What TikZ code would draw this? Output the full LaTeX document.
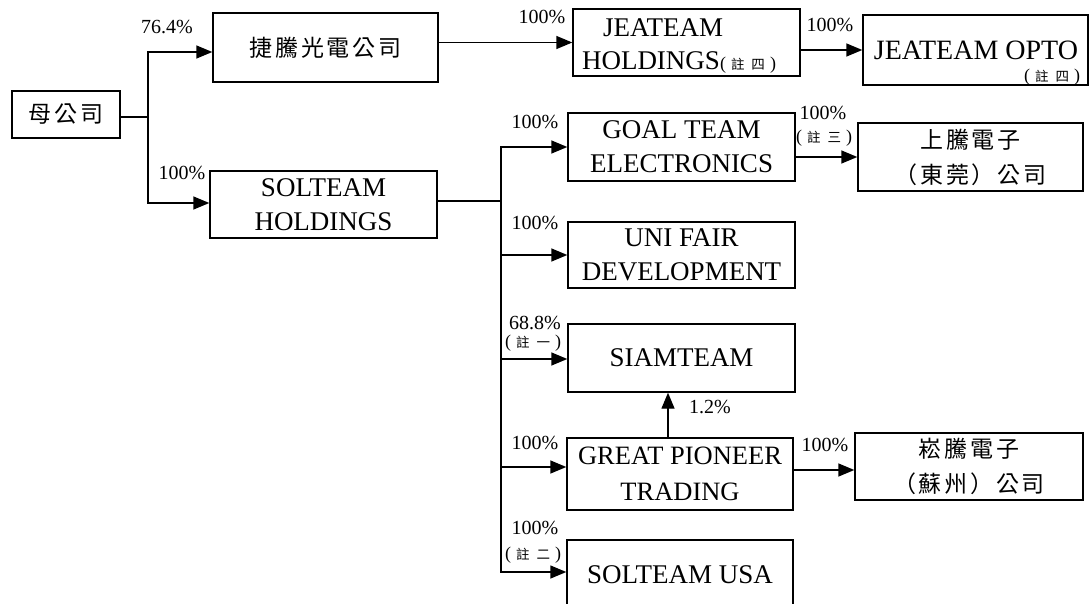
\documentclass[tikz,border=0pt]{standalone}
\usepackage{fontspec}
\setmainfont{Liberation Serif}
\newfontfamily\cjk{Noto Sans CJK TC}
\newfontfamily\cjkw[LetterSpace=12]{Noto Sans CJK TC}
\usetikzlibrary{arrows.meta,calc}
\newcommand\boxfont{\fontsize{27}{34}\selectfont}
\newcommand\pctfont{\fontsize{20}{20}\selectfont}
\newcommand\zhu[1]{{\fontsize{18}{18}\selectfont(\kern5pt{\cjk\fontsize{13.5}{13.5}\selectfont 註\kern7pt #1}\kern5pt)}}
\tikzset{
  box/.style={draw, line width=1.4pt, inner sep=0pt, align=center, font=\boxfont},
  cjkbox/.style={box, font=\cjkw\fontsize{23}{35}\selectfont},
  arr/.style={line width=1.4pt, -{Triangle[length=16pt,width=13pt]}},
  ln/.style={line width=1.4pt},
  pct/.style={inner sep=0pt, font=\pctfont},
  txt/.style={inner sep=0pt, font=\boxfont},
}
\begin{document}
\begin{tikzpicture}[x=1pt,y=-1pt]
\fill[white] (0,0) rectangle (1091,604);
\useasboundingbox (0,0) rectangle (1091,604);

% boxes
\node[cjkbox, minimum width=108pt, minimum height=47pt] (mom) at (66,114.5) {母公司};
\node[cjkbox, minimum width=225pt, minimum height=69pt] (jt) at (325.5,47.5) {捷騰光電公司};
\node[box, minimum width=227pt, minimum height=67pt] (sol) at (323.5,204.5) {SOLTEAM\\HOLDINGS};
\node[box, minimum width=227pt, minimum height=67pt] (jh) at (686.5,42.5) {};
\node[txt] (jhA) at (663,28) {JEATEAM};
\node[txt] (jhB) at (679,62) {HOLDINGS\zhu{四}};
\node[box, minimum width=225pt, minimum height=70pt] (jo) at (975.5,50) {};
\node[txt, font=\fontsize{28}{28}\selectfont] (joA) at (976,50) {JEATEAM OPTO};
\node[txt] (joB) at (1052,77) {\zhu{四}};
\node[box, minimum width=227pt, minimum height=68pt] (goal) at (681.5,147) {GOAL TEAM\\ELECTRONICS};
\node[cjkbox, minimum width=225pt, minimum height=68pt] (st) at (970.5,157) {上騰電子\\（東莞）公司};
\node[box, minimum width=227pt, minimum height=66pt] (uni) at (681.5,255) {UNI FAIR\\DEVELOPMENT};
\node[box, minimum width=227pt, minimum height=68pt] (siam) at (681.5,358) {SIAMTEAM};
\node[box, minimum width=226pt, minimum height=72pt, font=\fontsize{26.5}{36}\selectfont] (gp) at (680,474) {GREAT PIONEER\\TRADING};
\node[cjkbox, minimum width=228pt, minimum height=67pt] (ct) at (969,466.5) {崧騰電子\\（蘇州）公司};
\node[box, minimum width=226pt, minimum height=70pt] (usa) at (680,575) {SOLTEAM USA};

% connectors from parent
\coordinate (j1) at (148,117);
\draw[ln] (mom.east |- j1) -- (j1);
\draw[arr] (j1) |- ([yshift=-4.5pt]jt.west);
\draw[arr] (j1) |- ([yshift=1.5pt]sol.west);
\draw[arr] (jt.east |- jh.west) -- (jh.west);
\draw[arr] (jh.east |- jo.west) -- (jo.west);

% connectors from SOLTEAM HOLDINGS
\coordinate (j2) at (501,201);
\draw[ln] (sol.east |- j2) -- (j2);
\draw[arr] (j2) |- (goal.west);
\draw[arr] (j2) |- (uni.west);
\draw[arr] (j2) |- ([yshift=-1pt]siam.west);
\draw[arr] (j2) |- ([yshift=7pt]gp.west);
\draw[arr] (j2) |- ([yshift=3pt]usa.west);
\draw[arr] (goal.east |- st.west) -- (st.west);
\coordinate (ctin) at ([yshift=-3.5pt]ct.west);
\draw[arr] (gp.east |- ctin) -- (ctin);
\coordinate (gpup) at ([xshift=-12pt]gp.north);
\draw[arr] (gpup) -- (gpup |- siam.south);

% labels
\node[pct] (l1) at (167,27) {76.4\%};
\node[pct] (l2) at (182,173) {100\%};
\node[pct] (l3) at (542,17) {100\%};
\node[pct] (l4) at (830,25) {100\%};
\node[pct] (l5) at (535,122) {100\%};
\node[pct] (l6) at (823,113) {100\%};
\node[pct] (l6b) at (824,138) {\zhu{三}};
\node[pct] (l7) at (535,223) {100\%};
\node[pct] (l8) at (535,323) {68.8\%};
\node[pct] (l8b) at (533,343) {\zhu{一}};
\node[pct] (l9) at (710,407) {1.2\%};
\node[pct] (l10) at (535,443) {100\%};
\node[pct] (l11) at (825,445) {100\%};
\node[pct] (l12) at (535,528) {100\%};
\node[pct] (l12b) at (533,555) {\zhu{二}};
\end{tikzpicture}
\end{document}
